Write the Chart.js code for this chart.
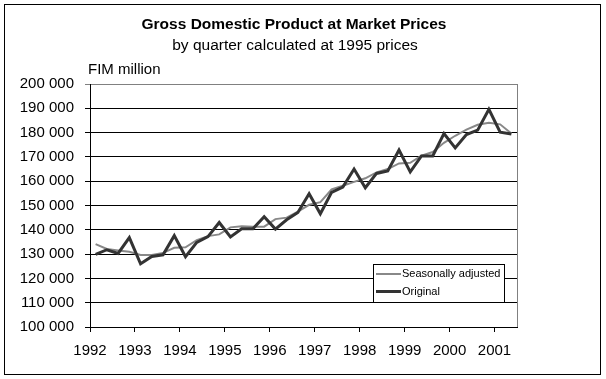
<!DOCTYPE html>
<html><head><meta charset="utf-8">
<script src="https://cdn.jsdelivr.net/npm/chart.js@4.4.1/dist/chart.umd.min.js"></script>
<style>html,body{margin:0;padding:0;background:#fff}#wrap{width:606px;height:379px;position:relative}</style>
</head><body><div id="wrap"><canvas id="c" width="606" height="379"></canvas></div>
<script>
const quarters = [
  '1992 Q1','1992 Q2','1992 Q3','1992 Q4','1993 Q1','1993 Q2','1993 Q3','1993 Q4',
  '1994 Q1','1994 Q2','1994 Q3','1994 Q4','1995 Q1','1995 Q2','1995 Q3','1995 Q4',
  '1996 Q1','1996 Q2','1996 Q3','1996 Q4','1997 Q1','1997 Q2','1997 Q3','1997 Q4',
  '1998 Q1','1998 Q2','1998 Q3','1998 Q4','1999 Q1','1999 Q2','1999 Q3','1999 Q4',
  '2000 Q1','2000 Q2','2000 Q3','2000 Q4','2001 Q1','2001 Q2'
];
const original = [
  129900,131800,130300,136800,126000,129000,129700,137600,
  128900,134800,137200,143000,137100,140400,140400,145400,
  140300,144100,147100,154800,146600,155400,157600,165000,
  157300,163200,164200,172800,163800,170400,170400,179600,
  173700,179200,181000,189600,180200,179400
];
const seasonallyAdjusted = [
  134100,132100,131500,131000,129600,129600,130500,132600,
  132800,135700,137400,138100,141000,141500,141300,141300,
  144400,145000,147500,150300,151400,156600,158100,159700,
  161200,163600,165000,167300,167600,170500,172000,175800,
  178700,181200,183200,184000,183400,179600
];
const yearLabels = ['1992','1993','1994','1995','1996','1997','1998','1999','2000','2001'];
const seriesNames = ['Seasonally adjusted','Original'];
const titleText = 'Gross Domestic Product at Market Prices';
const subtitleText = 'by quarter calculated at 1995 prices';
const unitText = 'FIM million';

const FONT = "'Liberation Sans', Arial, sans-serif";
const DARK = '#333333';
const GREY = '#888888';

const decor = {
  id: 'decor',
  beforeDatasetsDraw(chart) {
    const {ctx, chartArea: a} = chart;
    ctx.save();
    ctx.strokeStyle = '#808080';
    ctx.lineWidth = 1;
    ctx.beginPath();
    ctx.moveTo(Math.round(a.right) + 0.5, a.top);
    ctx.lineTo(Math.round(a.right) + 0.5, a.bottom);
    ctx.stroke();
    ctx.restore();
  },
  afterDraw(chart) {
    const {ctx} = chart;
    ctx.save();
    ctx.strokeStyle = '#000';
    ctx.lineWidth = 1;
    ctx.strokeRect(4.5, 4.5, 596, 370);
    ctx.fillStyle = '#000';
    ctx.textAlign = 'center';
    ctx.textBaseline = 'middle';
    ctx.font = 'bold 15.5px ' + FONT;
    ctx.fillText(titleText, 294, 25);
    ctx.font = '15.5px ' + FONT;
    ctx.fillText(subtitleText, 295, 46);
    ctx.textAlign = 'left';
    ctx.font = '15px ' + FONT;
    ctx.fillText(unitText, 88, 70);
    const lx = 373.5, ly = 264.5, lw = 131, lh = 38;
    ctx.fillStyle = '#fff';
    ctx.fillRect(lx, ly, lw, lh);
    ctx.strokeStyle = '#000';
    ctx.lineWidth = 1;
    ctx.strokeRect(lx, ly, lw, lh);
    const rows = [{c: GREY, w: 2, y: 274}, {c: DARK, w: 3, y: 291.5}];
    ctx.font = '11px ' + FONT;
    ctx.textBaseline = 'middle';
    rows.forEach((r, i) => {
      ctx.strokeStyle = r.c;
      ctx.lineWidth = r.w;
      ctx.beginPath();
      ctx.moveTo(376, r.y);
      ctx.lineTo(401, r.y);
      ctx.stroke();
      ctx.fillStyle = '#000';
      ctx.fillText(seriesNames[i], 402, r.y);
    });
    ctx.restore();
  }
};

const toPoints = arr => arr.map((v, i) => ({x: i, y: v}));

new Chart(document.getElementById('c'), {
  type: 'line',
  data: {
    labels: quarters,
    datasets: [
      {label: seriesNames[1], data: toPoints(original), borderColor: DARK, borderWidth: 3,
       pointRadius: 0, tension: 0, borderJoinStyle: 'miter', fill: false},
      {label: seriesNames[0], data: toPoints(seasonallyAdjusted), borderColor: GREY, borderWidth: 2,
       pointRadius: 0, tension: 0, borderJoinStyle: 'miter', fill: false}
    ]
  },
  options: {
    responsive: false,
    animation: false,
    devicePixelRatio: 1,
    layout: {padding: {top: 84, right: 89, left: 0, bottom: 0}},
    plugins: {legend: {display: false}, title: {display: false}, tooltip: {enabled: false}},
    scales: {
      x: {
        type: 'linear',
        min: -0.5,
        max: 37.5,
        afterBuildTicks(axis) {
          axis.ticks = yearLabels.map((_, k) => ({value: k * 4 - 0.5}));
        },
        afterFit(scale) { scale.height = 52; },
        ticks: {
          autoSkip: false, maxRotation: 0, minRotation: 0, padding: 10,
          color: '#000', font: {family: FONT, size: 15},
          callback: (v, idx) => yearLabels[idx]
        },
        grid: {drawOnChartArea: false, drawTicks: true, tickLength: 5, color: '#000'},
        border: {display: true, color: '#000', width: 1}
      },
      y: {
        min: 100000,
        max: 200000,
        afterFit(scale) { scale.width = 90; },
        ticks: {
          stepSize: 10000, padding: 11, color: '#000', font: {family: FONT, size: 15},
          callback: v => String(v).replace(/\B(?=(\d{3})+(?!\d))/g, ' ')
        },
        grid: {
          drawTicks: true, tickLength: 5,
          color: ctx => (ctx.tick && ctx.tick.value === 200000) ? '#808080' : '#000'
        },
        border: {display: true, color: '#000', width: 1}
      }
    }
  },
  plugins: [decor]
});
</script>
</body></html>
